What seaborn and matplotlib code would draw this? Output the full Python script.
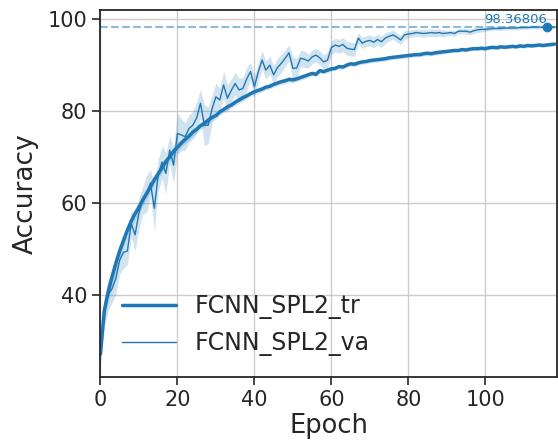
import numpy as np
import pandas as pd
import matplotlib
matplotlib.use("Agg")
import matplotlib.pyplot as plt
import seaborn as sns

# mean accuracy per epoch
train_acc = [
    27.0, 36.5, 40.5, 43.8, 46.8, 49.5, 51.8, 54.0, 56.0, 57.6,
    59.0, 60.6, 62.0, 63.5, 65.0, 66.3, 67.6, 69.0, 70.0, 71.2,
    72.1, 73.0, 73.8, 74.5, 75.4, 76.0, 76.8, 77.3, 78.0, 78.6,
    79.0, 79.8, 80.3, 80.9, 81.3, 81.9, 82.4, 82.9, 83.3, 83.8,
    84.2, 84.5, 84.8, 85.2, 85.4, 85.8, 86.1, 86.4, 86.6, 86.9,
    86.8, 87.0, 87.3, 87.6, 87.9, 88.2, 88.0, 88.8, 88.6, 88.9,
    89.2, 89.3, 89.7, 89.6, 90.0, 90.3, 90.2, 90.5, 90.7, 90.8,
    91.0, 91.1, 91.2, 91.3, 91.4, 91.6, 91.7, 91.8, 91.9, 92.0,
    92.1, 92.2, 92.3, 92.3, 92.5, 92.6, 92.5, 92.7, 92.8, 92.9,
    93.0, 93.1, 93.2, 93.2, 93.4, 93.3, 93.5, 93.6, 93.6, 93.7,
    93.6, 93.8, 93.9, 93.8, 94.0, 93.9, 94.0, 94.1, 94.0, 94.2,
    94.1, 94.3, 94.2, 94.3, 94.4, 94.3, 94.4, 94.5, 94.6,
]
train_err = [
    2.5, 2.5, 2.2, 2.0, 1.8, 1.6, 1.5, 1.5, 1.4, 1.4,
    1.3, 1.3, 1.2, 1.2, 1.2, 1.1, 1.1, 1.0, 1.0, 1.0,
    1.0, 0.9, 0.9, 0.9, 0.9, 0.8, 0.8, 0.8, 0.8, 0.8,
    0.8, 0.7, 0.7, 0.7, 0.7, 0.7, 0.7, 0.7, 0.6, 0.6,
    0.6, 0.6, 0.6, 0.6, 0.6, 0.6, 0.6, 0.6, 0.6, 0.6,
    0.6, 0.6, 0.6, 0.6, 0.5, 0.5, 0.5, 0.5, 0.5, 0.5,
    0.5, 0.5, 0.5, 0.5, 0.5, 0.5, 0.5, 0.5, 0.5, 0.5,
    0.5, 0.5, 0.5, 0.5, 0.5, 0.5, 0.5, 0.5, 0.5, 0.5,
    0.5, 0.5, 0.5, 0.5, 0.5, 0.5, 0.5, 0.5, 0.5, 0.5,
    0.4, 0.4, 0.4, 0.4, 0.4, 0.4, 0.4, 0.4, 0.4, 0.4,
    0.4, 0.4, 0.4, 0.4, 0.4, 0.4, 0.4, 0.4, 0.4, 0.4,
    0.4, 0.4, 0.4, 0.4, 0.4, 0.4, 0.4, 0.4, 0.4,
]
val_acc = [
    27.0, 36.0, 40.0, 41.2, 43.5, 47.5, 49.2, 49.5, 55.5, 53.0,
    57.8, 60.5, 62.0, 64.3, 58.8, 66.0, 68.9, 66.4, 71.5, 68.2,
    75.1, 74.8, 74.4, 76.2, 76.9, 78.5, 81.7, 76.9, 76.9, 80.5,
    83.1, 82.4, 85.7, 82.8, 84.5, 86.0, 84.6, 84.9, 87.0, 88.6,
    85.3, 88.5, 91.1, 88.9, 90.0, 87.9, 89.5, 90.4, 91.5, 92.7,
    89.3, 89.4, 91.5, 91.3, 90.9, 91.8, 92.2, 91.6, 90.7, 91.1,
    93.8, 94.4, 94.1, 94.5, 93.7, 93.5, 93.4, 95.9, 94.8, 95.2,
    95.4, 95.0, 95.6, 95.1, 95.9, 96.3, 96.6, 96.1, 95.5, 96.6,
    96.8, 96.9, 97.1, 97.0, 96.9, 97.0, 97.1, 97.0, 97.1, 96.9,
    97.0, 97.1, 96.9, 97.4, 97.4, 97.4, 97.2, 97.5, 97.7, 97.8,
    97.8, 97.9, 98.0, 98.0, 98.0, 98.1, 98.1, 98.1, 98.1, 98.2,
    98.2, 98.2, 98.3, 98.3, 98.3, 98.3, 98.36806, 98.3, 98.3,
]
val_err = [
    1.5, 3.0, 3.5, 3.0, 3.5, 3.0, 3.5, 3.0, 3.0, 3.5,
    3.5, 3.0, 4.0, 3.0, 5.0, 3.5, 3.5, 4.5, 3.0, 4.0,
    4.5, 3.5, 3.0, 3.0, 3.0, 3.5, 3.0, 4.5, 4.0, 3.0,
    3.0, 2.5, 3.0, 3.0, 2.5, 2.5, 2.5, 2.5, 2.5, 2.0,
    2.5, 2.0, 2.0, 2.0, 2.0, 2.0, 2.0, 2.0, 1.8, 1.8,
    2.5, 2.0, 1.8, 1.8, 1.5, 1.5, 1.5, 1.5, 1.5, 1.8,
    1.5, 1.5, 1.5, 1.5, 1.5, 1.5, 1.5, 1.2, 1.2, 1.2,
    1.2, 1.2, 1.2, 1.2, 1.2, 1.0, 1.0, 1.0, 1.0, 1.0,
    0.8, 0.8, 0.8, 0.8, 0.8, 0.8, 0.8, 0.8, 0.8, 0.8,
    0.6, 0.6, 0.6, 0.6, 0.6, 0.6, 0.6, 0.6, 0.6, 0.6,
    0.4, 0.4, 0.4, 0.4, 0.4, 0.4, 0.4, 0.4, 0.4, 0.4,
    0.4, 0.4, 0.4, 0.4, 0.4, 0.4, 0.4, 0.4, 0.4,
]
labels = ["FCNN_SPL2_tr", "FCNN_SPL2_va"]

epochs = np.arange(len(train_acc))
df = pd.DataFrame({"epoch": epochs, "tr": train_acc, "va": val_acc,
                   "tr_err": train_err, "va_err": val_err})

sns.set_style("ticks")
color = "#1f77b4"

fig = plt.figure(figsize=(5.58, 4.40), dpi=100)
ax = fig.add_axes([0.180, 0.143, 0.818, 0.834])

# shaded bands
ax.fill_between(df["epoch"], df["tr"] - df["tr_err"], df["tr"] + df["tr_err"],
                color=color, alpha=0.2, linewidth=0)
ax.fill_between(df["epoch"], df["va"] - df["va_err"], df["va"] + df["va_err"],
                color=color, alpha=0.2, linewidth=0)

sns.lineplot(data=df, x="epoch", y="tr", color=color, linewidth=2.5,
             label=labels[0], ax=ax)
sns.lineplot(data=df, x="epoch", y="va", color=color, linewidth=1.0,
             label=labels[1], ax=ax)

# best validation accuracy
best_idx = int(np.argmax(val_acc))
best = val_acc[best_idx]
ax.axhline(best, color=color, alpha=0.5, linestyle="--", linewidth=1.5)
ax.plot(best_idx, best, "o", color=color, markersize=6)
ax.text(best_idx, best + 0.1, f"{best:.5f}", color=color, fontsize=9.5,
        ha="right", va="bottom")

ax.set_xlim(0, 118.6)
ax.set_ylim(22, 102)
ax.set_xticks([0, 20, 40, 60, 80, 100])
ax.set_yticks([40, 60, 80, 100])
ax.grid(True, color="#cccccc", linewidth=1)
ax.tick_params(labelsize=15, length=6, width=1.2, colors="#262626")
ax.set_xlabel("Epoch", fontsize=18.5, color="#262626", labelpad=2)
ax.set_ylabel("Accuracy", fontsize=19, color="#262626", labelpad=6)
for sp in ax.spines.values():
    sp.set_color("#262626")
    sp.set_linewidth(1.3)

ax.legend(loc="lower left", frameon=False, fontsize=17, handlelength=2.3)

fig.savefig("out.png", dpi=100)
